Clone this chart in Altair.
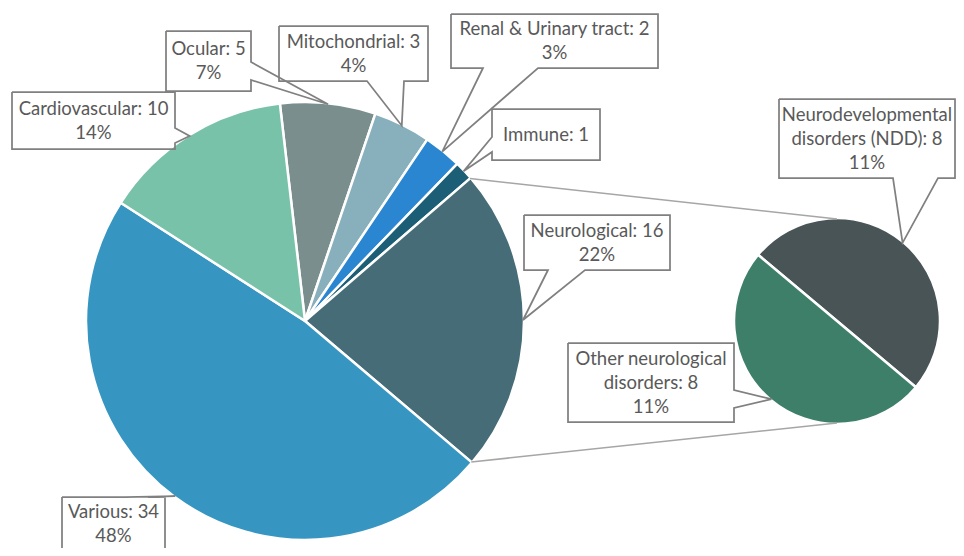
import math
import altair as alt
import pandas as pd

# ---------------- data ----------------
main_names = ["Ocular", "Mitochondrial", "Renal & Urinary tract", "Immune",
              "Neurological", "Various", "Cardiovascular"]
main_values = [5, 3, 2, 1, 16, 34, 10]
main_pct = ["7%", "4%", "3%", "", "22%", "48%", "14%"]
main_colors = ["#7B8E8E", "#88B0BC", "#2B86D1", "#1B5E75",
               "#466D77", "#3796C1", "#78C2A9"]

sub_names = ["Neurodevelopmental\ndisorders (NDD)", "Other neurological\ndisorders"]
sub_values = [8, 8]
sub_pct = ["11%", "11%"]
sub_colors = ["#485456", "#3E7F6A"]

# ---------------- layout (pixels inside the plot) ----------------
W, H = 948, 540
OFF = 8
MAIN_CX, MAIN_CY, MAIN_R = 305 - OFF, 321 - OFF, 218
SUB_CX, SUB_CY, SUB_R = 837 - OFF, 321 - OFF, 102
MAIN_START = math.radians(-6.6)
SUB_START = math.radians(-50.0)
LINE_H = 24
FONT = "Lato"
FONT_SIZE = 18.5
TEXT_COLOR = "#595959"
BOX_COLOR = "#808080"

# box: left, top, right, bottom, pointer side, base a, base b  (page coords)
boxes = {
    "Cardiovascular": (12, 92, 175, 149, "right", 128, 143),
    "Ocular": (166, 31, 251, 91, "right", 62, 80),
    "Mitochondrial": (279, 26, 428, 81, "bottom", 367, 404),
    "Renal & Urinary tract": (451, 14, 658, 68, "bottom", 483, 538),
    "Immune": (492, 109, 600, 160, "left", 137, 152),
    "Neurological": (524, 215, 670, 270, "bottom", 548, 585),
    "Various": (62, 497, 165, 551, "top", 125, 148),
    "Neurodevelopmental\ndisorders (NDD)": (779, 99, 955, 178, "bottom", 893, 938),
    "Other neurological\ndisorders": (568, 343, 734, 422, "right", 390, 408),
}


def rim_point(cx, cy, r, ang):
    return cx + r * math.sin(ang), cy - r * math.cos(ang)


def slice_table(names, values, colors, start):
    tot = sum(values)
    rows, cum = [], 0
    for i, (n, v, c) in enumerate(zip(names, values, colors)):
        a0 = start + 2 * math.pi * cum / tot
        cum += v
        a1 = start + 2 * math.pi * cum / tot
        rows.append(dict(idx=i, name=n, value=v, color=c, a0=a0, a1=a1,
                         mid=(a0 + a1) / 2))
    return rows


main_rows = slice_table(main_names, main_values, main_colors, MAIN_START)
sub_rows = slice_table(sub_names, sub_values, sub_colors, SUB_START)

main_df = pd.DataFrame(main_rows)
sub_df = pd.DataFrame(sub_rows)

# ---------------- pies ----------------
main_pie = alt.Chart(main_df).mark_arc(
    radius=MAIN_R + 1, stroke="white", strokeWidth=2.5, strokeJoin="round"
).encode(
    theta=alt.Theta("value:Q", stack=True,
                    scale=alt.Scale(range=[MAIN_START, MAIN_START + 2 * math.pi])),
    order=alt.Order("idx:Q"),
    color=alt.Color("color:N", scale=None),
    x=alt.value(MAIN_CX),
    y=alt.value(MAIN_CY),
)

sub_pie = alt.Chart(sub_df).mark_arc(
    radius=SUB_R + 1, stroke="white", strokeWidth=2.5, strokeJoin="round"
).encode(
    theta=alt.Theta("value:Q", stack=True,
                    scale=alt.Scale(range=[SUB_START, SUB_START + 2 * math.pi])),
    order=alt.Order("idx:Q"),
    color=alt.Color("color:N", scale=None),
    x=alt.value(SUB_CX),
    y=alt.value(SUB_CY),
)

# ---------------- connector lines between the pies ----------------
neuro = main_rows[main_names.index("Neurological")]
p_top = rim_point(MAIN_CX, MAIN_CY, MAIN_R, neuro["a0"])
p_bot = rim_point(MAIN_CX, MAIN_CY, MAIN_R, neuro["a1"])
s_top = rim_point(SUB_CX, SUB_CY, SUB_R, 0.0)
s_bot = rim_point(SUB_CX, SUB_CY, SUB_R, math.pi)
conn_df = pd.DataFrame([
    dict(x=p_top[0], y=p_top[1], x2=s_top[0], y2=s_top[1]),
    dict(x=p_bot[0], y=p_bot[1], x2=s_bot[0], y2=s_bot[1]),
])
connectors = alt.Chart(conn_df).mark_rule(color="#A6A6A6", strokeWidth=1.5).encode(
    x=alt.X("x:Q", scale=None, axis=None),
    y=alt.Y("y:Q", scale=None, axis=None),
    x2="x2:Q",
    y2="y2:Q",
)

# ---------------- callouts ----------------
outline_rows, text_rows = [], []


def add_callout(name, value, pct, tip):
    l, t, r, b, side, ba, bb = boxes[name]
    l, t, r, b, ba, bb = l - OFF, t - OFF, r - OFF, b - OFF, ba - OFF, bb - OFF
    pts = [(l, t)]
    if side == "top":
        pts += [(ba, t), tip, (bb, t)]
    pts.append((r, t))
    if side == "right":
        pts += [(r, ba), tip, (r, bb)]
    pts.append((r, b))
    if side == "bottom":
        pts += [(bb, b), tip, (ba, b)]
    pts.append((l, b))
    if side == "left":
        pts += [(l, bb), tip, (l, ba)]
    pts.append((l, t))
    for k, (x, y) in enumerate(pts):
        outline_rows.append(dict(label=name, seq=k, x=x, y=y))
    lines = name.split("\n")
    lines[-1] = f"{lines[-1]}: {value}"
    if pct:
        lines.append(pct)
    cx, cy = (l + r) / 2, (t + b) / 2
    n = len(lines)
    for i, s in enumerate(lines):
        text_rows.append(dict(label=name, line=s, x=cx,
                              y=cy + (i - (n - 1) / 2) * LINE_H))


for row, pct in zip(main_rows, main_pct):
    add_callout(row["name"], row["value"], pct,
                rim_point(MAIN_CX, MAIN_CY, MAIN_R, row["mid"]))
for row, pct in zip(sub_rows, sub_pct):
    add_callout(row["name"], row["value"], pct,
                rim_point(SUB_CX, SUB_CY, SUB_R, row["mid"]))

outline = alt.Chart(pd.DataFrame(outline_rows)).mark_line(
    color=BOX_COLOR, strokeWidth=1.75, strokeJoin="miter"
).encode(
    x=alt.X("x:Q", scale=None, axis=None),
    y=alt.Y("y:Q", scale=None, axis=None),
    detail="label:N",
    order="seq:Q",
)

labels = alt.Chart(pd.DataFrame(text_rows)).mark_text(
    font=FONT, fontSize=FONT_SIZE, color=TEXT_COLOR, align="center", baseline="middle"
).encode(
    x=alt.X("x:Q", scale=None, axis=None),
    y=alt.Y("y:Q", scale=None, axis=None),
    text="line:N",
)

chart = alt.layer(main_pie, sub_pie, connectors, outline, labels).resolve_scale(
    theta="independent"
).properties(
    width=W, height=H, padding=0, background="white",
    autosize=alt.AutoSizeParams(type="none"),
).configure_view(stroke=None)

chart.save("out.html", embed_options={"renderer": "svg", "actions": False})
